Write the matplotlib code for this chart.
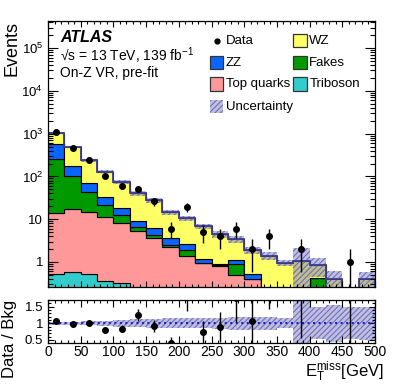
import numpy as np
import matplotlib
matplotlib.use("Agg")
import matplotlib.pyplot as plt
from matplotlib.patches import Rectangle
from matplotlib.ticker import MultipleLocator, FixedLocator, NullFormatter, LogLocator

plt.rcParams['font.family'] = ['Liberation Sans', 'DejaVu Sans']
plt.rcParams['mathtext.fontset'] = 'custom'
plt.rcParams['mathtext.rm'] = 'Liberation Sans'
plt.rcParams['mathtext.it'] = 'Liberation Sans:italic'
plt.rcParams['mathtext.bf'] = 'Liberation Sans:bold'
plt.rcParams['hatch.linewidth'] = 0.8

# 25 GeV bins from 0 to 500
edges = np.arange(0, 525, 25)

# per-process yields
triboson = [0.51, 0.59, 0.53, 0.36, 0.33, 0, 0, 0, 0, 0, 0, 0, 0, 0, 0, 0, 0, 0, 0, 0]
top = [13.8, 16.5, 14.5, 10.7, 7.8, 5.3, 3.7, 2.28, 1.38, 0.93, 0.82, 0.50, 0.40, 0, 0, 0, 0, 0, 0, 0]
fakes = [244, 86, 29, 10.1, 4.5, 1.1, 0.6, 0.22, 0.53, 0.02, 0.01, 0.40, 0, 0, 0, 0, 0.415, 0, 0, 0]
zz = [312, 74, 26, 11.5, 5.5, 2.7, 1.9, 1.1, 0.73, 0.23, 0.05, 0.21, 0.12, 0, 0, 0, 0, 0, 0, 0]
wz = [463, 298, 166, 97, 55, 31, 21.8, 11.0, 7.96, 5.6, 3.6, 2.3, 1.35, 1.40, 0.96, 1.07, 0.435, 0.39, 0.08, 0.39]
unc_rel = [0.04, 0.05, 0.06, 0.08, 0.10, 0.12, 0.13, 0.15, 0.15, 0.15, 0.17, 0.2, 0.2, 0.2, 0.15, 1.0, 0.48, 0.55, 0.48, 0.5]
data = [1090, 465, 236, 105, 61, 50, 26, 6, 19, 5, 4, 6, 2, 4, 0, 2, 0, 0, 1, 0]

stack = [("Triboson", triboson, "#33cccc"),
         ("Top quarks", top, "#ff9999"),
         ("Fakes", fakes, "#009900"),
         ("ZZ", zz, "#0a64ff"),
         ("WZ", wz, "#ffff66")]

band_face = (0.45, 0.45, 0.75, 0.45)
band_hatch = "#7070b8"
tot_color = "#3b3b8f"

W, H = 399, 385
fig = plt.figure(figsize=(W / 100, H / 100), dpi=100)

def fx(px):
    return px / W

def fy(py):
    return 1 - py / H

ax = fig.add_axes([fx(48), fy(287), fx(375) - fx(48), fy(21) - fy(287)])
rax = fig.add_axes([fx(48), fy(343.3), fx(375) - fx(48), fy(300) - fy(343.3)])

floor = 1e-3
base = np.full(20, floor)
for name, vals, col in stack:
    topv = base + np.array(vals, dtype=float)
    ax.stairs(topv, edges, baseline=base, fill=True, facecolor=col,
              edgecolor="black", linewidth=0.8)
    base = topv
total = base - floor

# uncertainty band
up = total * (1 + np.array(unc_rel))
dn = np.maximum(total * (1 - np.array(unc_rel)), floor)
ax.stairs(up, edges, baseline=dn, fill=True, facecolor=band_face,
          edgecolor=band_hatch, hatch="//////", linewidth=0)
ax.stairs(np.maximum(total, floor), edges, color=tot_color, linewidth=1.3)

centers = 0.5 * (edges[1:] + edges[:-1])
d = np.array(data, dtype=float)
m = d > 0
err = np.sqrt(d)
err_lo = np.minimum(err, d * 0.999)
ax.errorbar(centers[m], d[m], yerr=[err_lo[m], err[m]], fmt="o", color="black",
            markersize=4, elinewidth=1, capsize=0)

ax.set_yscale("log")
ax.set_xlim(0, 500)
ax.set_ylim(0.26, 4.3e5)
ax.yaxis.set_major_locator(FixedLocator([1, 10, 1e2, 1e3, 1e4, 1e5]))
ax.set_yticklabels(["1", "10", "$10^{2}$", "$10^{3}$", "$10^{4}$", "$10^{5}$"])
ax.yaxis.set_minor_locator(LogLocator(base=10, subs=np.arange(2, 10), numticks=20))
ax.yaxis.set_minor_formatter(NullFormatter())
ax.xaxis.set_major_locator(MultipleLocator(50))
ax.xaxis.set_minor_locator(MultipleLocator(10))
ax.tick_params(axis="x", labelbottom=False)

for a in (ax, rax):
    a.tick_params(which="both", direction="in", top=True, right=True, labelsize=9.5)
    a.tick_params(which="major", length=7, width=0.8)
    a.tick_params(which="minor", length=3.5, width=0.8)
    for s in a.spines.values():
        s.set_linewidth(0.9)
ax.tick_params(axis="x", which="major", length=4.5)
ax.tick_params(axis="x", which="minor", length=2.2)

# ratio panel
rm = total > 0
r_up = np.where(rm, 1 + np.array(unc_rel), np.nan)
r_dn = np.where(rm, 1 - np.array(unc_rel), np.nan)
rax.stairs(r_up, edges, baseline=r_dn, fill=True, facecolor=band_face,
           edgecolor=band_hatch, hatch="//////", linewidth=0)
rax.axhline(1, color="#2020d0", linestyle=":", linewidth=1.5)
ratio = np.where(rm, d / np.where(rm, total, 1), np.nan)
rerr = np.where(rm, err / np.where(rm, total, 1), np.nan)
mm = m & rm
rax.errorbar(centers[mm], ratio[mm], yerr=rerr[mm], fmt="o", color="black",
             markersize=4, elinewidth=1, capsize=0)
rax.set_xlim(0, 500)
rax.set_ylim(0.4, 1.7)
rax.yaxis.set_major_locator(FixedLocator([0.5, 1, 1.5]))
rax.set_yticklabels(["0.5", "1", "1.5"])
rax.yaxis.set_minor_locator(MultipleLocator(0.1))
rax.xaxis.set_major_locator(MultipleLocator(50))
rax.xaxis.set_minor_locator(MultipleLocator(10))
rax.tick_params(axis="y", which="major", length=4)
rax.tick_params(axis="y", which="minor", length=2)
rax.tick_params(axis="x", which="major", length=5)
rax.tick_params(axis="x", which="minor", length=2.5)
rax.tick_params(axis="x", labelsize=10, pad=1.5)

# axis titles
fig.text(fx(12), fy(21), "Events", rotation=90, ha="center", va="top", fontsize=13)
fig.text(fx(10), fy(300), "Data / Bkg", rotation=90, ha="center", va="top", fontsize=12)
fig.text(fx(384), fy(377), r"E$_{\mathrm{T}}^{\mathrm{miss}}$[GeV]", ha="right",
         va="baseline", fontsize=12)

# labels
fig.text(fx(60), fy(42), "ATLAS", fontsize=11.5, fontweight="bold", fontstyle="italic",
         va="baseline")
fig.text(fx(60), fy(60.5), "\u221as = 13 TeV, 139 fb$^{-1}$", fontsize=10, va="baseline")
fig.text(fx(60), fy(77.5), "On-Z VR, pre-fit", fontsize=10, va="baseline")

# legend drawn by hand
rows = [40.7, 62.7, 84.0, 106.7]
box = 13.3

def leg_box(x0, yc, color, label, hatch=False):
    if hatch:
        r = Rectangle((fx(x0), fy(yc + box / 2)), box / W, box / H, transform=fig.transFigure,
                      facecolor=band_face, edgecolor=band_hatch, hatch="//////", linewidth=0)
    else:
        r = Rectangle((fx(x0), fy(yc + box / 2)), box / W, box / H, transform=fig.transFigure,
                      facecolor=color, edgecolor="#333333", linewidth=0.9)
    fig.patches.append(r)
    fig.text(fx(x0 + box + 2.7), fy(yc), label, fontsize=9.5, va="center")

fig.lines.append(plt.Line2D([fx(216.7)], [fy(rows[0])], marker="o", markersize=3.5,
                            color="black", transform=fig.transFigure))
fig.text(fx(226), fy(rows[0]), "Data", fontsize=9.5, va="center")
leg_box(210, rows[1], "#0a64ff", "ZZ")
leg_box(210, rows[2], "#ff9999", "Top quarks")
leg_box(210, rows[3], None, "Uncertainty", hatch=True)
leg_box(293.3, rows[0], "#ffff66", "WZ")
leg_box(293.3, rows[1], "#009900", "Fakes")
leg_box(293.3, rows[2], "#33cccc", "Triboson")

fig.savefig("out.png", dpi=100)
